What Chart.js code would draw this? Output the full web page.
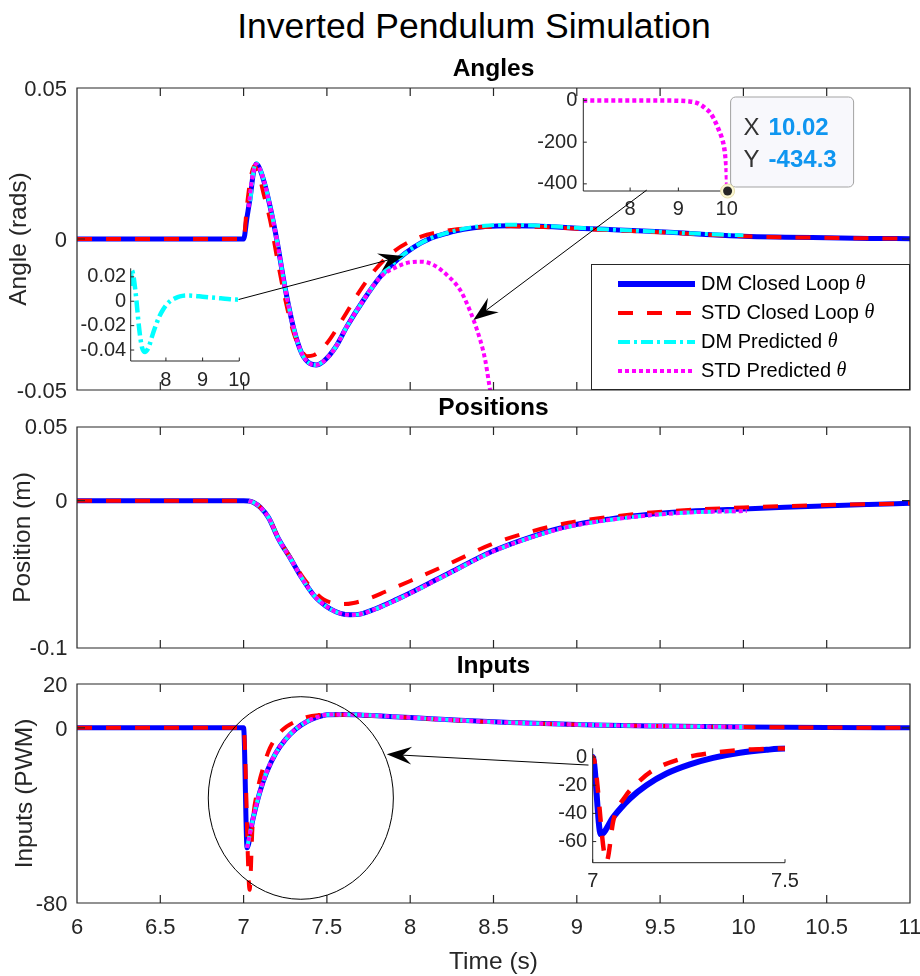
<!DOCTYPE html>
<html>
<head>
<meta charset="utf-8">
<title>Inverted Pendulum Simulation</title>
<script src="https://cdn.jsdelivr.net/npm/chart.js@4.4.1/dist/chart.umd.min.js"></script>
<style>
  html, body { margin: 0; padding: 0; background: #ffffff; }
  #figure { position: relative; width: 920px; height: 976px; overflow: hidden; background: #ffffff; }
  #figure canvas { position: absolute; left: 0; top: 0; }
  #suptitle { position: absolute; left: 0; top: 6px; width: 948px; text-align: center; white-space: nowrap;
              font-family: 'Liberation Sans', Arial, Helvetica, sans-serif; font-size: 35.5px; line-height: 40px; color: #000; }
</style>
</head>
<body>
<div id="figure">
  <div id="suptitle">Inverted Pendulum Simulation</div>
  <canvas id="angles" width="920" height="976"></canvas>
  <canvas id="positions" width="920" height="976"></canvas>
  <canvas id="inputs" width="920" height="976"></canvas>
  <canvas id="angleZoomDM" width="920" height="976"></canvas>
  <canvas id="angleZoomSTD" width="920" height="976"></canvas>
  <canvas id="inputZoom" width="920" height="976"></canvas>
  <canvas id="annotations" width="920" height="976"></canvas>
</div>
<script>
const FONT = "'Liberation Sans', Arial, Helvetica, sans-serif";
const SERIF = "'Liberation Serif', 'Times New Roman', serif";
const INK = '#262626';

// ---------- tick values ----------
const timeTicks = [6, 6.5, 7, 7.5, 8, 8.5, 9, 9.5, 10, 10.5, 11];
const angleTicks = [-0.05, 0, 0.05];
const positionTicks = [-0.1, 0, 0.05];
const inputTicks = [-80, 0, 20];
const angleZoomDMXTicks = [8, 9, 10];
const angleZoomDMYTicks = [-0.04, -0.02, 0, 0.02];
const angleZoomSTDXTicks = [8, 9, 10];
const angleZoomSTDYTicks = [-400, -200, 0];
const inputZoomXTicks = [7, 7.5];
const inputZoomYTicks = [-60, -40, -20, 0];

// ---------- series names ----------
const seriesNames = ['DM Closed Loop', 'STD Closed Loop', 'DM Predicted', 'STD Predicted'];
const seriesSymbol = 'θ';

// ---------- pendulum angle (rad) ----------
const tAngDM = [6, 7, 7.02, 7.04, 7.06, 7.075, 7.09, 7.12, 7.16, 7.2, 7.25, 7.3, 7.35, 7.4, 7.435, 7.48, 7.55, 7.62, 7.72, 7.82, 7.92, 8.02, 8.12, 8.22, 8.32, 8.45, 8.6, 8.75, 9, 9.25, 9.5, 9.75, 10, 10.25, 10.5, 10.75, 11];
const angDM = [0, 0, 0.007, 0.014, 0.0223, 0.0248, 0.024, 0.0195, 0.0105, -0.0005, -0.0165, -0.0295, -0.038, -0.0413, -0.0417, -0.0405, -0.036, -0.029, -0.0202, -0.0125, -0.007, -0.0028, 0.0002, 0.0019, 0.0032, 0.0041, 0.0044, 0.0043, 0.0036, 0.003, 0.0024, 0.0016, 0.0009, 0.0006, 0.0004, 0.0002, 0.0001];

const tAngSTD = [6, 7, 7.02, 7.045, 7.065, 7.09, 7.12, 7.16, 7.2, 7.25, 7.3, 7.35, 7.38, 7.42, 7.5, 7.6, 7.7, 7.8, 7.9, 8, 8.1, 8.25, 8.4, 8.6, 8.8, 9, 9.5, 10, 10.5, 11];
const angSTD = [0, 0, 0.011, 0.021, 0.0242, 0.0215, 0.015, 0.006, -0.006, -0.02, -0.031, -0.0372, -0.0388, -0.0385, -0.0345, -0.026, -0.017, -0.0095, -0.0042, -0.0008, 0.0014, 0.003, 0.0038, 0.0042, 0.004, 0.0034, 0.0022, 0.0009, 0.0004, 0.0001];

const tAngDMPred = [7.04, 7.06, 7.075, 7.09, 7.12, 7.16, 7.2, 7.25, 7.3, 7.35, 7.4, 7.435, 7.48, 7.55, 7.62, 7.72, 7.82, 7.92, 8.02, 8.12, 8.22, 8.32, 8.45, 8.6, 8.75, 9, 9.25, 9.5, 9.75, 10];
const angDMPred = [0.0125, 0.0225, 0.0252, 0.0243, 0.0197, 0.0106, -0.0005, -0.0165, -0.0295, -0.038, -0.0413, -0.0417, -0.0405, -0.036, -0.029, -0.0202, -0.0125, -0.007, -0.0028, 0.0002, 0.002, 0.0034, 0.0044, 0.0047, 0.0045, 0.0037, 0.003, 0.0024, 0.0017, 0.0012];

const tAngSTDPred = [7.03, 7.045, 7.06, 7.075, 7.09, 7.12, 7.16, 7.2, 7.25, 7.3, 7.35, 7.4, 7.435, 7.48, 7.55, 7.62, 7.72, 7.82, 7.92, 8.0, 8.07, 8.14, 8.22, 8.3, 8.34, 8.38, 8.42, 8.45, 8.47, 8.5, 8.6, 8.7, 8.8, 9.0, 9.2, 9.36, 9.48, 9.57, 9.66, 9.73, 9.79, 9.85, 9.9, 9.94, 9.97, 9.99, 10.0, 10.01, 10.02];
const angSTDPred = [0.0105, 0.0175, 0.0223, 0.0248, 0.024, 0.0195, 0.0105, -0.0005, -0.0165, -0.0295, -0.038, -0.0413, -0.0417, -0.0405, -0.036, -0.029, -0.0202, -0.0127, -0.0092, -0.0077, -0.0075, -0.0086, -0.0119, -0.0169, -0.0213, -0.0268, -0.0334, -0.04, -0.0467, -0.058, -0.11, -0.2, -0.37, -1.2, -4, -10, -23, -40, -59, -85, -115, -148, -179, -215, -260, -305, -340, -395, -434.3];

// ---------- cart position (m) ----------
const tPosDM = [6, 7, 7.03, 7.06, 7.1, 7.15, 7.21, 7.28, 7.35, 7.42, 7.46, 7.52, 7.58, 7.64, 7.7, 7.81, 7.92, 8.03, 8.24, 8.49, 8.74, 8.95, 9.2, 9.45, 9.67, 10, 10.25, 10.52, 10.75, 11];
const posDM = [0, 0, -0.0002, -0.0012, -0.0045, -0.0115, -0.026, -0.039, -0.0525, -0.064, -0.0685, -0.0735, -0.0765, -0.0775, -0.077, -0.0726, -0.067, -0.061, -0.0487, -0.0345, -0.024, -0.0172, -0.0124, -0.0091, -0.0072, -0.0056, -0.0045, -0.0034, -0.0026, -0.0018];

const tPosSTD = [6, 7, 7.03, 7.06, 7.1, 7.15, 7.21, 7.28, 7.35, 7.42, 7.48, 7.54, 7.6, 7.66, 7.75, 7.85, 8, 8.24, 8.49, 8.74, 8.95, 9.2, 9.45, 9.67, 10, 10.5, 11];
const posSTD = [0, 0, -0.0002, -0.0012, -0.0045, -0.0115, -0.0255, -0.0385, -0.051, -0.061, -0.067, -0.0697, -0.0702, -0.0694, -0.0665, -0.0618, -0.0545, -0.0425, -0.0295, -0.0205, -0.015, -0.011, -0.008, -0.0063, -0.0046, -0.003, -0.0018];

const tPosPred = [7.03, 7.06, 7.1, 7.15, 7.21, 7.28, 7.35, 7.42, 7.46, 7.52, 7.58, 7.64, 7.7, 7.81, 7.92, 8.03, 8.24, 8.49, 8.74, 8.95, 9.2, 9.45, 9.67, 10.02];
const posDMPred = [-0.0002, -0.0012, -0.0045, -0.0115, -0.026, -0.039, -0.0525, -0.064, -0.0685, -0.0735, -0.0765, -0.0775, -0.077, -0.0727, -0.0672, -0.0612, -0.049, -0.0348, -0.0244, -0.0177, -0.013, -0.0098, -0.008, -0.007];
const posSTDPred = [-0.0002, -0.0012, -0.0045, -0.0115, -0.026, -0.039, -0.0525, -0.064, -0.0685, -0.0735, -0.0765, -0.0775, -0.077, -0.0727, -0.0672, -0.0612, -0.049, -0.0348, -0.0244, -0.0177, -0.013, -0.0098, -0.008, -0.007];

// ---------- motor input (PWM) ----------
const tInDM = [6, 7, 7.021, 7.054, 7.097, 7.14, 7.192, 7.253, 7.313, 7.383, 7.452, 7.5, 7.6, 7.7, 7.85, 8, 8.3, 8.6, 9.1, 9.5, 10, 10.5, 11];
const inDM = [0, 0, -54.8, -42.4, -29.4, -20, -11.7, -5.2, -0.6, 3, 5.1, 6, 6.1, 5.9, 5.3, 4.7, 3.4, 2.4, 1.3, 0.8, 0.35, 0.12, 0.02];

const tInSTD = [6, 7, 7.036, 7.054, 7.084, 7.12, 7.157, 7.23, 7.308, 7.383, 7.45, 7.5, 7.6, 7.7, 7.85, 8, 8.3, 8.6, 9.1, 9.5, 10, 10.5, 11];
const inSTD = [0, 0, -74, -44.7, -28.3, -17.5, -9.4, -1.2, 2.8, 5, 5.8, 6, 6, 5.8, 5.2, 4.6, 3.3, 2.4, 1.3, 0.8, 0.35, 0.12, 0.02];

const tInPred = [7.021, 7.054, 7.097, 7.14, 7.192, 7.253, 7.313, 7.383, 7.452, 7.5, 7.6, 7.7, 7.85, 8, 8.3, 8.6, 9.1, 9.5, 10];
const inDMPred = [-54.8, -42.4, -29.4, -20, -11.7, -5.2, -0.6, 3, 5.1, 6, 6.1, 5.9, 5.3, 4.7, 3.4, 2.4, 1.3, 0.8, 0.35];
const inSTDPred = [-54.8, -42.4, -29.4, -20, -11.7, -5.2, -0.6, 3, 5.1, 6, 6.1, 5.9, 5.3, 4.7, 3.4, 2.4, 1.3, 0.8, 0.35];

// ---------- line styles (blue solid, red dashed, cyan dash-dot, magenta dotted) ----------
const lineStyles = [
  { borderColor: '#0000ff', borderWidth: 5, borderDash: [], order: 3 },
  { borderColor: '#ff0000', borderWidth: 4, borderDash: [15, 14], order: 2 },
  { borderColor: '#00ffff', borderWidth: 4, borderDash: [12, 4, 3, 4], order: 1 },
  { borderColor: '#ff00ff', borderWidth: 4, borderDash: [4, 3], order: 0 }
];

function zip(t, v) { return t.map((x, i) => ({ x, y: v[i] })); }

function series(k, t, v, extra) {
  return Object.assign({
    label: seriesNames[k], data: zip(t, v), fill: false,
    pointRadius: 0, pointHoverRadius: 0,
    cubicInterpolationMode: 'monotone', borderCapStyle: 'butt', borderJoinStyle: 'round'
  }, lineStyles[k], extra || {});
}

// ---------- plugins ----------
// MATLAB-like frame: axis lines plus inward-pointing tick marks
const axesFrame = {
  id: 'axesFrame',
  afterDraw(chart, args, o) {
    const { ctx, chartArea: a, scales: { x, y } } = chart;
    const L = o.tickLength;
    ctx.save();
    ctx.strokeStyle = INK;
    ctx.lineWidth = o.lineWidth;
    ctx.beginPath();
    if (o.box) {
      ctx.rect(a.left, a.top, a.right - a.left, a.bottom - a.top);
    } else {
      ctx.moveTo(a.left, a.top);
      ctx.lineTo(a.left, a.bottom);
      ctx.lineTo(a.right, a.bottom);
    }
    x.ticks.forEach(t => {
      const p = x.getPixelForValue(t.value);
      ctx.moveTo(p, a.bottom); ctx.lineTo(p, a.bottom - L);
      if (o.box) { ctx.moveTo(p, a.top); ctx.lineTo(p, a.top + L); }
    });
    y.ticks.forEach(t => {
      const p = y.getPixelForValue(t.value);
      ctx.moveTo(a.left, p); ctx.lineTo(a.left + L, p);
      if (o.box) { ctx.moveTo(a.right, p); ctx.lineTo(a.right - L, p); }
    });
    ctx.stroke();
    ctx.restore();
  }
};

// legend box anchored to the lower-right corner of the plot area
const legendBox = {
  id: 'legendBox',
  afterDraw(chart, args, o) {
    const { ctx, chartArea: a } = chart;
    const x0 = a.right - o.width, y0 = a.bottom - o.height;
    ctx.save();
    ctx.fillStyle = '#ffffff';
    ctx.fillRect(x0, y0, o.width, o.height);
    ctx.strokeStyle = INK;
    ctx.lineWidth = 1;
    ctx.strokeRect(x0 + 0.5, y0 + 0.5, o.width - 1, o.height - 1);
    chart.data.datasets.forEach((ds, i) => {
      const yc = y0 + o.firstRow + i * o.rowStep;
      ctx.save();
      ctx.strokeStyle = ds.borderColor;
      ctx.lineWidth = ds.borderWidth + (i === 0 ? 1 : 0);
      ctx.setLineDash(ds.borderDash || []);
      ctx.lineCap = 'butt';
      ctx.beginPath();
      ctx.moveTo(x0 + o.sampleStart, yc);
      ctx.lineTo(x0 + o.sampleEnd, yc);
      ctx.stroke();
      ctx.restore();
      ctx.fillStyle = '#000000';
      ctx.textBaseline = 'middle';
      ctx.textAlign = 'left';
      ctx.font = o.fontSize + 'px ' + FONT;
      const name = ds.label + ' ';
      ctx.fillText(name, x0 + o.textStart, yc);
      const w = ctx.measureText(name).width;
      ctx.font = 'italic ' + o.fontSize + 'px ' + SERIF;
      ctx.fillText(seriesSymbol, x0 + o.textStart + w, yc);
    });
    ctx.restore();
  }
};

// data tip on the last point of the first dataset
const dataTip = {
  id: 'dataTip',
  afterDraw(chart, args, o) {
    const { ctx, scales: { x, y } } = chart;
    const pts = chart.data.datasets[0].data;
    const pt = pts[pts.length - 1];
    const px = x.getPixelForValue(pt.x), py = y.getPixelForValue(pt.y);
    const bx = px + 3, by = py - 94, bw = 123, bh = 90, r = 5;
    ctx.save();
    ctx.beginPath();
    ctx.moveTo(bx + r, by);
    ctx.arcTo(bx + bw, by, bx + bw, by + bh, r);
    ctx.arcTo(bx + bw, by + bh, bx, by + bh, r);
    ctx.arcTo(bx, by + bh, bx, by, r);
    ctx.arcTo(bx, by, bx + bw, by, r);
    ctx.closePath();
    ctx.fillStyle = '#f8f8fc';
    ctx.fill();
    ctx.strokeStyle = '#a3a3a3';
    ctx.lineWidth = 1;
    ctx.stroke();
    ctx.textBaseline = 'alphabetic';
    ctx.textAlign = 'left';
    ctx.font = '24px ' + FONT;
    ctx.fillStyle = '#333333';
    ctx.fillText('X', bx + 13, by + 38);
    ctx.fillText('Y', bx + 13, by + 70);
    ctx.font = 'bold 24px ' + FONT;
    ctx.fillStyle = '#0f96f0';
    ctx.fillText(pt.x.toFixed(2), bx + 38, by + 38);
    ctx.fillText(pt.y.toFixed(1), bx + 38, by + 70);
    // highlighted marker
    ctx.beginPath();
    ctx.arc(px, py, 7, 0, Math.PI * 2);
    ctx.fillStyle = '#fbf7d2';
    ctx.fill();
    ctx.strokeStyle = '#e6dfae';
    ctx.stroke();
    ctx.beginPath();
    ctx.arc(px, py, 4.5, 0, Math.PI * 2);
    ctx.fillStyle = '#262626';
    ctx.fill();
    ctx.restore();
  }
};

// ---------- axes factory ----------
const PAGE_W = 920, PAGE_H = 976;

function makeAxes(id, g, datasets, extraPlugins, pluginOpts) {
  const titleLH = g.titleSize ? g.titleSize * 1.2 : 0;
  const xH = g.xAxisHeight || 0;
  const padTop = g.title ? g.titleY - titleLH / 2 : g.area.top;
  const fmt = v => String(v);
  const tickFont = { family: FONT, size: g.tickSize };
  const plugins = Object.assign({
    legend: { display: false },
    tooltip: { enabled: false },
    title: g.title ? {
      display: true, text: g.title, fullSize: false, color: '#000000',
      font: { family: FONT, size: g.titleSize, weight: 'bold', lineHeight: 1.2 },
      padding: { top: 0, bottom: g.area.top - g.titleY - titleLH / 2 }
    } : { display: false },
    axesFrame: { box: g.box, tickLength: g.tickLength, lineWidth: g.frameWidth }
  }, pluginOpts || {});
  return new Chart(document.getElementById(id), {
    type: 'line',
    data: { datasets },
    options: {
      responsive: false, animation: false, devicePixelRatio: 1, events: [],
      layout: { padding: { left: 0, top: padTop, right: PAGE_W - g.area.right, bottom: PAGE_H - g.area.bottom - xH } },
      plugins,
      scales: {
        x: {
          type: 'linear', position: 'bottom', min: g.x.min, max: g.x.max,
          afterBuildTicks: s => { s.ticks = g.x.ticks.map(value => ({ value })); },
          afterFit: s => { s.height = xH; s.paddingLeft = 0; s.paddingRight = 0; s.paddingTop = 0; s.paddingBottom = 0; },
          grid: { display: false, drawTicks: false },
          border: { display: false },
          ticks: { display: !!g.x.labels, padding: g.x.pad || 0, color: INK, font: tickFont, maxRotation: 0, minRotation: 0, autoSkip: false, callback: fmt },
          title: g.xTitle ? { display: true, text: g.xTitle, color: INK, font: { family: FONT, size: g.labelSize, lineHeight: 1.1 }, padding: { top: 0, bottom: 0 } } : { display: false }
        },
        y: {
          type: 'linear', position: 'left', min: g.y.min, max: g.y.max,
          afterBuildTicks: s => { s.ticks = g.y.ticks.map(value => ({ value })); },
          afterFit: s => { s.width = g.area.left; s.paddingLeft = 0; s.paddingRight = 0; s.paddingTop = 0; s.paddingBottom = 0; },
          grid: { display: false, drawTicks: false },
          border: { display: false },
          ticks: { display: true, padding: g.y.pad, labelOffset: g.y.labelOffset || 0, color: INK, font: tickFont, autoSkip: false, callback: fmt },
          title: g.yTitle ? { display: true, text: g.yTitle, color: INK, font: { family: FONT, size: g.labelSize, lineHeight: 1.2 }, padding: { top: g.yTitleX - g.labelSize * 0.6, bottom: 0 } } : { display: false }
        }
      }
    },
    plugins: [axesFrame].concat(extraPlugins || [])
  });
}

// ---------- main panels ----------
const mainCommon = { box: true, tickLength: 8, frameWidth: 1.2, tickSize: 22, labelSize: 24.5, titleSize: 24.5 };

const anglesChart = makeAxes('angles', Object.assign({}, mainCommon, {
  area: { left: 77, right: 910, top: 88, bottom: 390 },
  title: 'Angles', titleY: 68.8,
  x: { min: 6, max: 11, ticks: timeTicks, labels: false },
  y: { min: -0.05, max: 0.05, ticks: angleTicks, pad: 10, labelOffset: 2 },
  yTitle: 'Angle (rads)', yTitleX: 19.6
}), [
  series(0, tAngDM, angDM),
  series(1, tAngSTD, angSTD),
  series(2, tAngDMPred, angDMPred),
  series(3, tAngSTDPred, angSTDPred)
], [legendBox], {
  legendBox: { width: 319, height: 126, firstRow: 20, rowStep: 29, sampleStart: 27, sampleEnd: 104, textStart: 110, fontSize: 20 }
});

const positionsChart = makeAxes('positions', Object.assign({}, mainCommon, {
  area: { left: 77, right: 910, top: 427, bottom: 648 },
  title: 'Positions', titleY: 408,
  x: { min: 6, max: 11, ticks: timeTicks, labels: false },
  y: { min: -0.1, max: 0.05, ticks: positionTicks, pad: 9.5, labelOffset: 1 },
  yTitle: 'Position (m)', yTitleX: 23.7
}), [
  series(0, tPosDM, posDM),
  series(1, tPosSTD, posSTD),
  series(2, tPosPred, posDMPred),
  series(3, tPosPred, posSTDPred)
]);

const inputsChart = makeAxes('inputs', Object.assign({}, mainCommon, {
  area: { left: 77, right: 910, top: 684, bottom: 903 },
  title: 'Inputs', titleY: 666.5,
  xAxisHeight: 73,
  x: { min: 6, max: 11, ticks: timeTicks, labels: true, pad: 12 },
  y: { min: -80, max: 20, ticks: inputTicks, pad: 9.5, labelOffset: 2 },
  yTitle: 'Inputs (PWM)', yTitleX: 25.4,
  xTitle: 'Time (s)'
}), [
  series(0, tInDM, inDM),
  series(1, tInSTD, inSTD),
  series(2, tInPred, inDMPred),
  series(3, tInPred, inSTDPred)
]);

// ---------- zoomed insets ----------
const insetCommon = { box: false, tickLength: 3.5, frameWidth: 1, tickSize: 20, xAxisHeight: 32 };

const angleZoomDMChart = makeAxes('angleZoomDM', Object.assign({}, insetCommon, {
  area: { left: 130.7, right: 239.3, top: 268.3, bottom: 361 },
  x: { min: 7.04, max: 10.0, ticks: angleZoomDMXTicks, labels: true, pad: 7 },
  y: { min: -0.049, max: 0.027, ticks: angleZoomDMYTicks, pad: 4.5 }
}), [
  series(2, tAngDMPred, angDMPred, { borderWidth: 4.5 })
]);

const angleZoomSTDChart = makeAxes('angleZoomSTD', Object.assign({}, insetCommon, {
  area: { left: 583.3, right: 727.6, top: 98, bottom: 191 },
  x: { min: 7.03, max: 10.02, ticks: angleZoomSTDXTicks, labels: true, pad: 6 },
  y: { min: -434.3, max: 12, ticks: angleZoomSTDYTicks, pad: 6 }
}), [
  series(3, tAngSTDPred, angSTDPred, { borderWidth: 4.5 })
], [dataTip]);

const inputZoomChart = makeAxes('inputZoom', Object.assign({}, insetCommon, {
  area: { left: 592.7, right: 785, top: 748.3, bottom: 862.7 },
  x: { min: 7, max: 7.5, ticks: inputZoomXTicks, labels: true, pad: 7 },
  y: { min: -75, max: 6.2, ticks: inputZoomYTicks, pad: 5.5 }
}), [
  series(0, tInDM, inDM, { borderWidth: 6, clip: { left: 0, top: 3, right: 3, bottom: 3 } }),
  series(1, tInSTD, inSTD, { borderWidth: 4.5, clip: { left: 0, top: 3, right: 3, bottom: 3 } })
]);

// ---------- callouts: arrows from insets to the curves, ellipse around the input dip ----------
const calloutArrows = [
  { from: [angleZoomDMChart, 9.98, 0.0014], to: [anglesChart, 7.96, -0.0056] },
  { from: [angleZoomSTDChart, 8.344, -430], to: [anglesChart, 8.379, -0.0268] },
  { from: [inputZoomChart, 6.989, -5.7], to: [inputsChart, 7.859, -12.1] }
];
const calloutEllipse = { chart: inputsChart, xMin: 6.788, xMax: 7.899, yMin: -78.3, yMax: 14.2 };

function toPx(chart, x, y) {
  return [chart.scales.x.getPixelForValue(x), chart.scales.y.getPixelForValue(y)];
}

function drawArrow(ctx, p1, p2) {
  const [x1, y1] = p1, [x2, y2] = p2;
  const dx = x2 - x1, dy = y2 - y1, len = Math.hypot(dx, dy);
  const ux = dx / len, uy = dy / len, nx = -uy, ny = ux;
  const L = 25, HW = 9, N = 16;
  ctx.beginPath();
  ctx.moveTo(x1, y1);
  ctx.lineTo(x2 - ux * N, y2 - uy * N);
  ctx.stroke();
  ctx.beginPath();
  ctx.moveTo(x2, y2);
  ctx.lineTo(x2 - ux * L + nx * HW, y2 - uy * L + ny * HW);
  ctx.lineTo(x2 - ux * N, y2 - uy * N);
  ctx.lineTo(x2 - ux * L - nx * HW, y2 - uy * L - ny * HW);
  ctx.closePath();
  ctx.fill();
}

(function drawCallouts() {
  const ctx = document.getElementById('annotations').getContext('2d');
  ctx.strokeStyle = '#000000';
  ctx.fillStyle = '#000000';
  ctx.lineWidth = 1;
  calloutArrows.forEach(a => {
    drawArrow(ctx, toPx(a.from[0], a.from[1], a.from[2]), toPx(a.to[0], a.to[1], a.to[2]));
  });
  const e = calloutEllipse;
  const [xl, yt] = toPx(e.chart, e.xMin, e.yMax);
  const [xr, yb] = toPx(e.chart, e.xMax, e.yMin);
  ctx.beginPath();
  ctx.ellipse((xl + xr) / 2, (yt + yb) / 2, (xr - xl) / 2, (yb - yt) / 2, 0, 0, Math.PI * 2);
  ctx.stroke();
})();
</script>
</body>
</html>
